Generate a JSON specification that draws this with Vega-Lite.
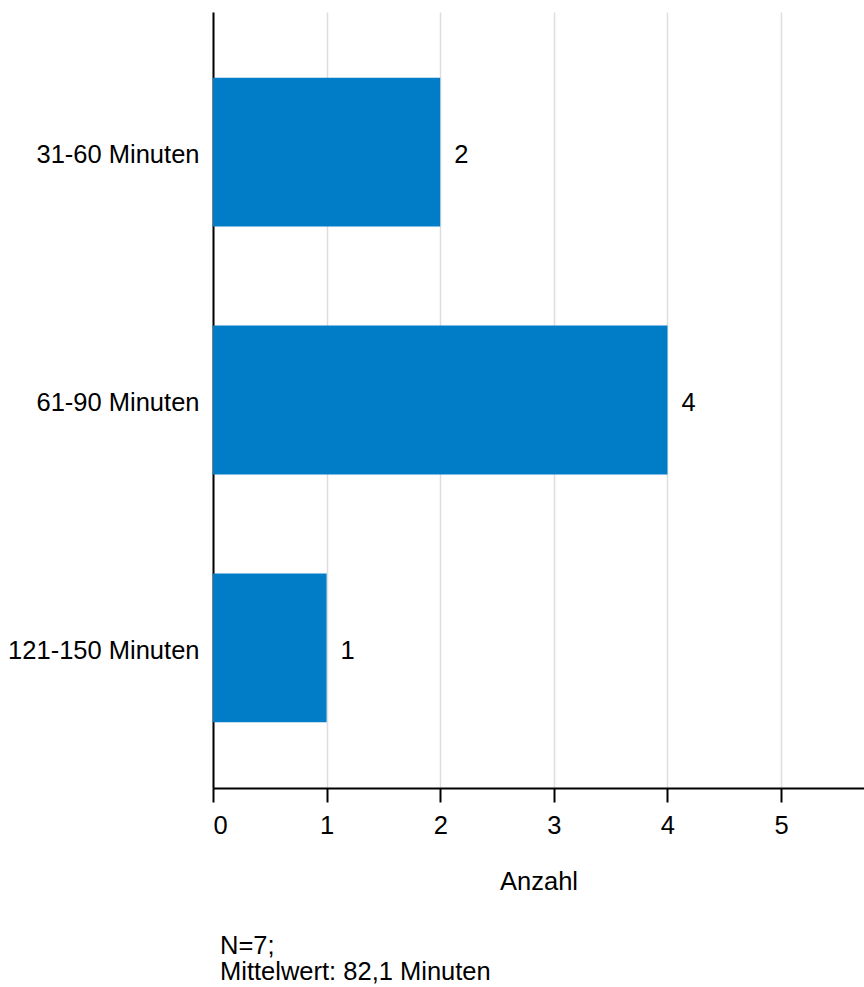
{
  "$schema": "https://vega.github.io/schema/vega-lite/v6.json",
  "width": 651,
  "height": 776,
  "autosize": {"type": "none"},
  "padding": {"left": 213, "top": 12, "right": 0, "bottom": 199},
  "background": "white",
  "data": {"values": [
    {"kategorie": "31-60 Minuten", "anzahl": 2},
    {"kategorie": "61-90 Minuten", "anzahl": 4},
    {"kategorie": "121-150 Minuten", "anzahl": 1}
  ]},
  "title": {
    "text": ["N=7;", "Mittelwert: 82,1 Minuten"],
    "orient": "bottom",
    "anchor": "start",
    "frame": "group",
    "dx": 7,
    "offset": 39,
    "font": "Liberation Sans",
    "fontSize": 25.5,
    "fontWeight": "normal",
    "color": "black",
    "lineHeight": 26
  },
  "config": {
    "view": {"stroke": null},
    "font": "Liberation Sans"
  },
  "encoding": {
    "y": {
      "field": "kategorie",
      "type": "nominal",
      "sort": ["31-60 Minuten", "61-90 Minuten", "121-150 Minuten"],
      "scale": {"paddingInner": 0.4, "paddingOuter": 0.265},
      "axis": {
        "title": null,
        "ticks": false,
        "labelPadding": 14,
        "labelOffset": 3,
        "labelLimit": 400,
        "labelFontSize": 25.5,
        "labelColor": "black",
        "labelFont": "Liberation Sans",
        "domainColor": "black",
        "domainWidth": 2
      }
    },
    "x": {
      "field": "anzahl",
      "type": "quantitative",
      "scale": {"domain": [0, 5.73], "nice": false, "zero": true},
      "axis": {
        "title": "Anzahl",
        "values": [0, 1, 2, 3, 4, 5],
        "tickSize": 14,
        "tickColor": "black",
        "tickWidth": 2,
        "domainColor": "black",
        "domainWidth": 2,
        "labelFontSize": 25.5,
        "labelColor": "black",
        "labelPadding": 11,
        "labelFont": "Liberation Sans",
        "titleFont": "Liberation Sans",
        "titleFontSize": 25.5,
        "titleFontWeight": "normal",
        "titleColor": "black",
        "titlePadding": 31,
        "grid": true,
        "gridColor": "#dddddd",
        "gridWidth": 1.5
      }
    }
  },
  "layer": [
    {"mark": {"type": "bar", "color": "#007DC6"}},
    {
      "mark": {"type": "text", "align": "left", "baseline": "middle", "dx": 14, "dy": 3, "fontSize": 25.5, "color": "black", "font": "Liberation Sans"},
      "encoding": {"text": {"field": "anzahl", "type": "quantitative"}}
    }
  ]
}
